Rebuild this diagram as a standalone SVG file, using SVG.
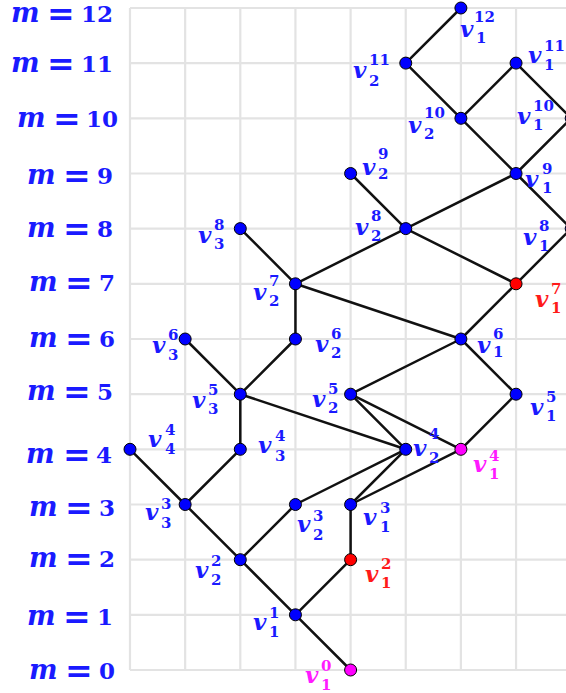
<svg xmlns="http://www.w3.org/2000/svg" width="566" height="693" viewBox="0 0 566 693">
<style>
.g{stroke:#e3e3e3;stroke-width:2.2;fill:none}
.e{stroke:#111;stroke-width:2.5;fill:none;stroke-linecap:round}
.n{stroke:#000;stroke-width:1}
.b{fill:#0000ff}.r{fill:#ff0000}.p{fill:#ff00ff}
.m{font-family:"DejaVu Serif",serif;font-weight:bold;fill:#1a1aff}
.mi{font-style:italic;font-size:27px}
.eq{font-size:33px}
.dg{font-size:23px}
.lb{font-family:"DejaVu Serif",serif;font-weight:bold;font-style:italic;font-size:23px}
.s{font-style:normal;font-size:15px}
.tb{fill:#1a1aff}.tr{fill:#ff1a1a}.tp{fill:#ff1aff}
</style>
<rect width="566" height="693" fill="#fff"/>
<g id="grid" class="g">
<path d="M130 8V670M185.15 8V670M240.3 8V670M295.45 8V670M350.6 8V670M405.75 8V670M460.9 8V670M516.05 8V670"/>
<path d="M130 8H566M130 63.1H566M130 118.3H566M130 173.5H566M130 228.6H566M130 283.8H566M130 339H566M130 394.2H566M130 449.3H566M130 504.5H566M130 559.7H566M130 614.8H566M130 670H566"/>
</g>
<g id="axis-labels" class="m">
<text y="22"><tspan class="mi" x="11">m</tspan><tspan class="eq" x="47" y="25">=</tspan><tspan class="dg" x="81" y="22">12</tspan></text>
<text y="72"><tspan class="mi" x="11">m</tspan><tspan class="eq" x="47" y="75">=</tspan><tspan class="dg" x="81" y="72">11</tspan></text>
<text y="127"><tspan class="mi" x="17">m</tspan><tspan class="eq" x="53" y="130">=</tspan><tspan class="dg" x="86" y="127">10</tspan></text>
<text y="184"><tspan class="mi" x="27">m</tspan><tspan class="eq" x="63" y="187">=</tspan><tspan class="dg" x="97" y="184">9</tspan></text>
<text y="237"><tspan class="mi" x="27">m</tspan><tspan class="eq" x="63" y="240">=</tspan><tspan class="dg" x="97" y="237">8</tspan></text>
<text y="291"><tspan class="mi" x="29">m</tspan><tspan class="eq" x="65" y="294">=</tspan><tspan class="dg" x="99" y="291">7</tspan></text>
<text y="347"><tspan class="mi" x="29">m</tspan><tspan class="eq" x="65" y="350">=</tspan><tspan class="dg" x="99" y="347">6</tspan></text>
<text y="400"><tspan class="mi" x="27">m</tspan><tspan class="eq" x="63" y="403">=</tspan><tspan class="dg" x="97" y="400">5</tspan></text>
<text y="463"><tspan class="mi" x="26">m</tspan><tspan class="eq" x="63" y="466">=</tspan><tspan class="dg" x="96" y="463">4</tspan></text>
<text y="516"><tspan class="mi" x="29">m</tspan><tspan class="eq" x="65" y="519">=</tspan><tspan class="dg" x="99" y="516">3</tspan></text>
<text y="567"><tspan class="mi" x="29">m</tspan><tspan class="eq" x="65" y="570">=</tspan><tspan class="dg" x="99" y="567">2</tspan></text>
<text y="625"><tspan class="mi" x="27">m</tspan><tspan class="eq" x="63" y="628">=</tspan><tspan class="dg" x="97" y="625">1</tspan></text>
<text y="679"><tspan class="mi" x="29">m</tspan><tspan class="eq" x="65" y="682">=</tspan><tspan class="dg" x="99" y="679">0</tspan></text>
</g>
<g id="connectors" class="e">
<path d="M350.6 670L295.45 614.8"/>
<path d="M295.45 614.8L240.3 559.7"/>
<path d="M295.45 614.8L350.6 559.7"/>
<path d="M240.3 559.7L185.15 504.5"/>
<path d="M240.3 559.7L295.45 504.5"/>
<path d="M350.6 559.7L350.6 504.5"/>
<path d="M185.15 504.5L130 449.3"/>
<path d="M185.15 504.5L240.3 449.3"/>
<path d="M295.45 504.5L405.75 449.3"/>
<path d="M350.6 504.5L405.75 449.3"/>
<path d="M350.6 504.5L460.9 449.3"/>
<path d="M240.3 449.3L240.3 394.2"/>
<path d="M405.75 449.3L240.3 394.2"/>
<path d="M405.75 449.3L350.6 394.2"/>
<path d="M460.9 449.3L350.6 394.2"/>
<path d="M460.9 449.3L516.05 394.2"/>
<path d="M240.3 394.2L185.15 339"/>
<path d="M240.3 394.2L295.45 339"/>
<path d="M350.6 394.2L460.9 339"/>
<path d="M516.05 394.2L460.9 339"/>
<path d="M295.45 339L295.45 283.8"/>
<path d="M295.45 283.8L240.3 228.6"/>
<path d="M295.45 283.8L405.75 228.6"/>
<path d="M295.45 283.8L460.9 339"/>
<path d="M460.9 339L516.05 283.8"/>
<path d="M405.75 228.6L516.05 283.8"/>
<path d="M516.05 283.8L571.2 228.6"/>
<path d="M405.75 228.6L350.6 173.5"/>
<path d="M405.75 228.6L516.05 173.5"/>
<path d="M516.05 173.5L460.9 118.3"/>
<path d="M516.05 173.5L571.2 118.3"/>
<path d="M516.05 173.5L571.2 228.6"/>
<path d="M460.9 118.3L405.75 63.1"/>
<path d="M460.9 118.3L516.05 63.1"/>
<path d="M405.75 63.1L460.9 8"/>
<path d="M516.05 63.1L571.2 118.3"/>
</g>
<g id="v1_0"><circle class="n p" cx="350.6" cy="670" r="6"/><text class="lb tp" x="305" y="683">v<tspan class="s" x="321" y="671">0</tspan><tspan class="s" x="321" y="690">1</tspan></text></g>
<g id="v1_1"><circle class="n b" cx="295.45" cy="614.8" r="6"/><text class="lb tb" x="253" y="630">v<tspan class="s" x="269" y="618">1</tspan><tspan class="s" x="269" y="637">1</tspan></text></g>
<g id="v2_2"><circle class="n b" cx="240.3" cy="559.7" r="6"/><text class="lb tb" x="195" y="578">v<tspan class="s" x="211" y="566">2</tspan><tspan class="s" x="211" y="585">2</tspan></text></g>
<g id="v1_2"><circle class="n r" cx="350.6" cy="559.7" r="6"/><text class="lb tr" x="365" y="582">v<tspan class="s" x="381" y="569">2</tspan><tspan class="s" x="381" y="588">1</tspan></text></g>
<g id="v3_3"><circle class="n b" cx="185.15" cy="504.5" r="6"/><text class="lb tb" x="145" y="520">v<tspan class="s" x="161" y="509">3</tspan><tspan class="s" x="161" y="528">3</tspan></text></g>
<g id="v2_3"><circle class="n b" cx="295.45" cy="504.5" r="6"/><text class="lb tb" x="297" y="532">v<tspan class="s" x="313" y="521">3</tspan><tspan class="s" x="313" y="540">2</tspan></text></g>
<g id="v1_3"><circle class="n b" cx="350.6" cy="504.5" r="6"/><text class="lb tb" x="363" y="525">v<tspan class="s" x="380" y="513">3</tspan><tspan class="s" x="380" y="532">1</tspan></text></g>
<g id="v4_4"><circle class="n b" cx="130" cy="449.3" r="6"/><text class="lb tb" x="148" y="447">v<tspan class="s" x="165" y="435">4</tspan><tspan class="s" x="165" y="454">4</tspan></text></g>
<g id="v3_4"><circle class="n b" cx="240.3" cy="449.3" r="6"/><text class="lb tb" x="258" y="453">v<tspan class="s" x="275" y="441">4</tspan><tspan class="s" x="275" y="461">3</tspan></text></g>
<g id="v2_4"><circle class="n b" cx="405.75" cy="449.3" r="6"/><text class="lb tb" x="413" y="456">v<tspan class="s" x="429" y="439">4</tspan><tspan class="s" x="429" y="463">2</tspan></text></g>
<g id="v1_4"><circle class="n p" cx="460.9" cy="449.3" r="6"/><text class="lb tp" x="473" y="472">v<tspan class="s" x="489" y="461">4</tspan><tspan class="s" x="489" y="479">1</tspan></text></g>
<g id="v3_5"><circle class="n b" cx="240.3" cy="394.2" r="6"/><text class="lb tb" x="192" y="408">v<tspan class="s" x="208" y="395">5</tspan><tspan class="s" x="208" y="414">3</tspan></text></g>
<g id="v2_5"><circle class="n b" cx="350.6" cy="394.2" r="6"/><text class="lb tb" x="312" y="407">v<tspan class="s" x="328" y="394">5</tspan><tspan class="s" x="328" y="413">2</tspan></text></g>
<g id="v1_5"><circle class="n b" cx="516.05" cy="394.2" r="6"/><text class="lb tb" x="530" y="415">v<tspan class="s" x="546" y="402">5</tspan><tspan class="s" x="546" y="421">1</tspan></text></g>
<g id="v3_6"><circle class="n b" cx="185.15" cy="339" r="6"/><text class="lb tb" x="152" y="353">v<tspan class="s" x="168" y="340">6</tspan><tspan class="s" x="168" y="360">3</tspan></text></g>
<g id="v2_6"><circle class="n b" cx="295.45" cy="339" r="6"/><text class="lb tb" x="315" y="352">v<tspan class="s" x="331" y="339">6</tspan><tspan class="s" x="331" y="358">2</tspan></text></g>
<g id="v1_6"><circle class="n b" cx="460.9" cy="339" r="6"/><text class="lb tb" x="477" y="353">v<tspan class="s" x="493" y="339">6</tspan><tspan class="s" x="493" y="357">1</tspan></text></g>
<g id="v2_7"><circle class="n b" cx="295.45" cy="283.8" r="6"/><text class="lb tb" x="253" y="300">v<tspan class="s" x="269" y="286">7</tspan><tspan class="s" x="269" y="306">2</tspan></text></g>
<g id="v1_7"><circle class="n r" cx="516.05" cy="283.8" r="6"/><text class="lb tr" x="535" y="307">v<tspan class="s" x="551" y="294">7</tspan><tspan class="s" x="551" y="313">1</tspan></text></g>
<g id="v3_8"><circle class="n b" cx="240.3" cy="228.6" r="6"/><text class="lb tb" x="198" y="243">v<tspan class="s" x="214" y="230">8</tspan><tspan class="s" x="214" y="249">3</tspan></text></g>
<g id="v2_8"><circle class="n b" cx="405.75" cy="228.6" r="6"/><text class="lb tb" x="355" y="235">v<tspan class="s" x="371" y="221">8</tspan><tspan class="s" x="371" y="241">2</tspan></text></g>
<g id="v1_8"><circle class="n b" cx="571.2" cy="228.6" r="6"/><text class="lb tb" x="523" y="245">v<tspan class="s" x="539" y="231">8</tspan><tspan class="s" x="539" y="251">1</tspan></text></g>
<g id="v2_9"><circle class="n b" cx="350.6" cy="173.5" r="6"/><text class="lb tb" x="362" y="175">v<tspan class="s" x="378" y="159">9</tspan><tspan class="s" x="378" y="179">2</tspan></text></g>
<g id="v1_9"><circle class="n b" cx="516.05" cy="173.5" r="6"/><text class="lb tb" x="525" y="187">v<tspan class="s" x="542" y="174">9</tspan><tspan class="s" x="542" y="193">1</tspan></text></g>
<g id="v2_10"><circle class="n b" cx="460.9" cy="118.3" r="6"/><text class="lb tb" x="408" y="133">v<tspan class="s" x="424" y="118">10</tspan><tspan class="s" x="424" y="139">2</tspan></text></g>
<g id="v1_10"><circle class="n b" cx="571.2" cy="118.3" r="6"/><text class="lb tb" x="517" y="124">v<tspan class="s" x="533" y="111">10</tspan><tspan class="s" x="533" y="130">1</tspan></text></g>
<g id="v2_11"><circle class="n b" cx="405.75" cy="63.1" r="6"/><text class="lb tb" x="353" y="78">v<tspan class="s" x="369" y="65">11</tspan><tspan class="s" x="369" y="86">2</tspan></text></g>
<g id="v1_11"><circle class="n b" cx="516.05" cy="63.1" r="6"/><text class="lb tb" x="528" y="63">v<tspan class="s" x="544" y="51">11</tspan><tspan class="s" x="544" y="70">1</tspan></text></g>
<g id="v1_12"><circle class="n b" cx="460.9" cy="8" r="6"/><text class="lb tb" x="460" y="37">v<tspan class="s" x="474" y="22">12</tspan><tspan class="s" x="476" y="43">1</tspan></text></g>
</svg>
